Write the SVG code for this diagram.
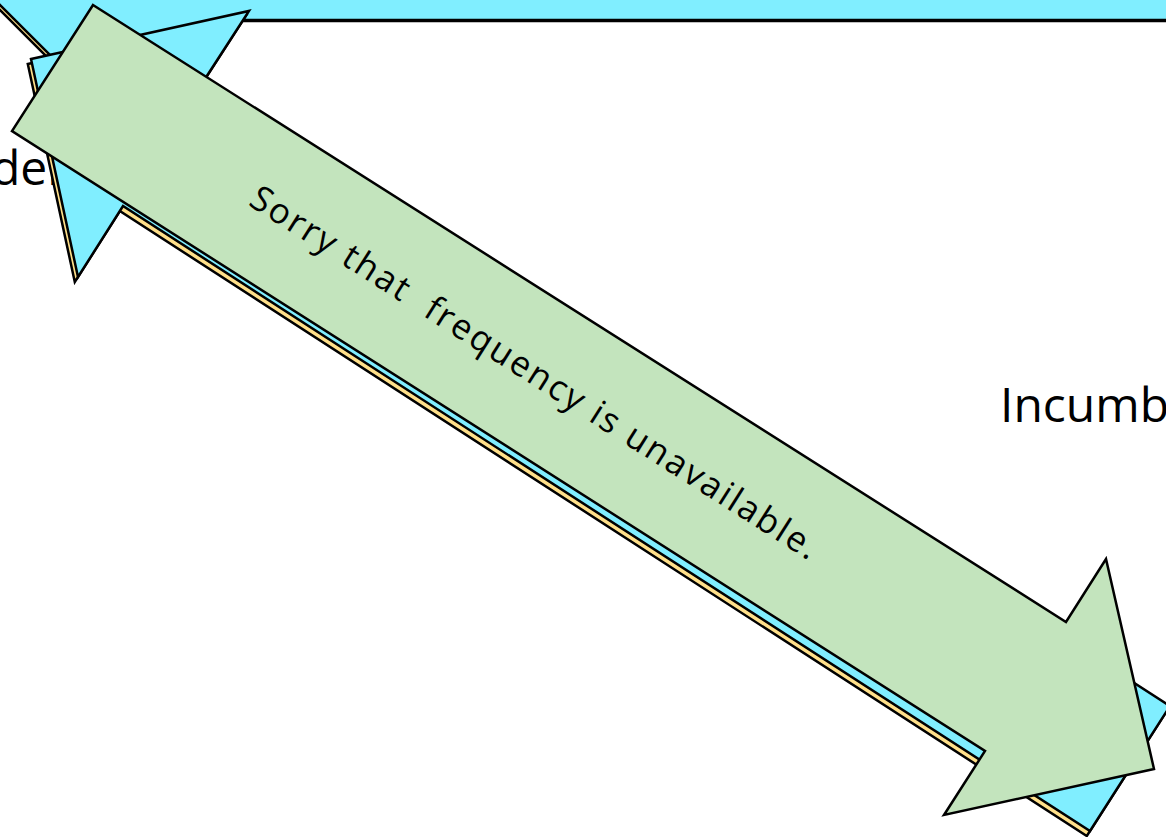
<svg xmlns="http://www.w3.org/2000/svg" width="1166" height="837" viewBox="0 0 1166 837">
  <style>
    .cy { fill: #80eeff; stroke: #000; stroke-width: 2.5; stroke-linejoin: miter; }
    .ye { fill: #ffe08a; stroke: #000; stroke-width: 2.5; stroke-linejoin: miter; }
    .gr { fill: #c3e4bd; stroke: #000; stroke-width: 2.5; stroke-linejoin: miter; }
    .lbl { font-family: "Open Sans", "Liberation Sans", sans-serif; fill: #000; font-weight: 400; }
  </style>
  <rect x="0" y="0" width="1166" height="837" fill="#fff"/>

  <g id="top-band">
    <polygon class="ye" points="-14,-14 1180,-14 1180,21 236,21 116,126 -14,-4"/>
    <polygon class="cy" points="-10,-15 1180,-15 1180,20 240,20 120,125 -10,-5"/>
  </g>

  <g id="label-der">
    <text class="lbl" x="-9" y="185" font-size="48">der</text>
  </g>
  <g id="label-incumbent">
    <text class="lbl" x="1000" y="422" font-size="48">Incumbent</text>
  </g>

  <g id="connectors">
    <polygon id="arrow-yellow" class="ye" transform="translate(-3.2,5)" points="31,59 249,11 203,82 1170,706 1090,831 123,206 78,277"/>
    <polygon id="arrow-cyan" class="cy" points="31,59 249,11 203,82 1170,706 1090,831 123,206 78,277"/>
  </g>

  <g id="arrow-green">
    <polygon class="gr" points="93,5 1066,622 1106,559 1154,769 944,815 985,751 12,131"/>
    <text class="lbl" xml:space="preserve" font-size="35" text-anchor="middle" transform="translate(533.9,373.2) rotate(32.38)" x="0" y="11" textLength="665" lengthAdjust="spacing">Sorry that  frequency is unavailable.</text>
  </g>
</svg>
